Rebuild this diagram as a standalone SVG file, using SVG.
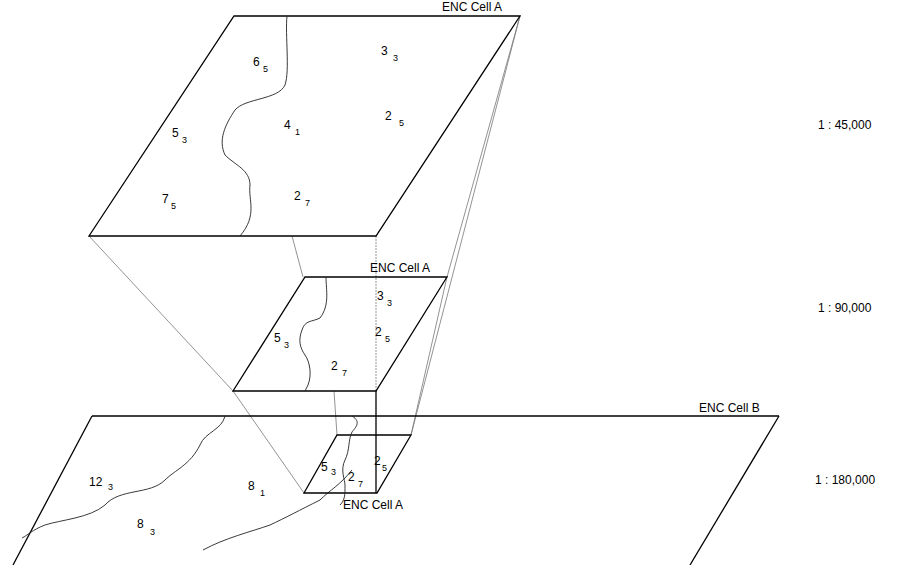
<svg xmlns="http://www.w3.org/2000/svg" width="897" height="565" viewBox="0 0 897 565">
<style>
.b{fill:none;stroke:#000;stroke-width:1.3}
.g{fill:none;stroke:#777;stroke-width:0.8}
.c{fill:none;stroke:#222;stroke-width:0.9}
text{font-family:"Liberation Sans",Arial,sans-serif;font-size:12px;fill:#000}
.s{font-size:9px}
</style>
<rect width="897" height="565" fill="#fff"/>
<g id="connectors">
<line class="g" x1="89" y1="236" x2="233" y2="391"/>
<line class="g" x1="233" y1="391" x2="304" y2="493"/>
<line class="g" x1="520" y1="16" x2="447" y2="277"/>
<line class="g" x1="520" y1="16" x2="411" y2="435"/>
<line class="g" x1="447" y1="277" x2="411" y2="435"/>
<line class="g" x1="292" y1="236" x2="303" y2="277"/>
<line class="g" x1="376" y1="236" x2="376" y2="391" stroke-dasharray="2,1"/>
<line class="g" x1="334" y1="391" x2="337" y2="435"/>
<line class="b" x1="376" y1="391" x2="376" y2="493"/>
</g>
<g id="cellB">
<line class="b" x1="92" y1="416" x2="779" y2="416"/>
<line class="b" x1="92" y1="416" x2="13" y2="565"/>
<line class="b" x1="779" y1="416" x2="690" y2="565"/>
<path class="c" d="M225,416 C222,430 205,432 200,445 C190,465 175,470 165,480 C150,495 120,488 105,505 C90,518 60,520 45,525 C32,530 28,535 22,538"/>
<path class="c" d="M352,470 C340,485 330,490 320,500 C300,510 285,518 270,525 C250,532 225,538 203,550"/>
<text x="699" y="412">ENC Cell B</text>
<text x="89" y="486">12</text><text x="108" y="490" class="s">3</text>
<text x="248" y="490">8</text><text x="260" y="496" class="s">1</text>
<text x="137" y="528">8</text><text x="150" y="535" class="s">3</text>
<text x="815" y="484">1 : 180,000</text>
</g>
<g id="cellA45">
<polygon class="b" points="234,16 520,16 376,236 89,236"/>
<path class="c" d="M287,16 C285,35 290,70 285,85 C278,100 245,98 235,110 C225,125 218,140 225,155 C235,165 250,170 250,185 C248,200 258,215 240,236"/>
<text x="442" y="11">ENC Cell A</text>
<text x="253" y="66">6</text><text x="263" y="72" class="s">5</text>
<text x="381" y="55">3</text><text x="393" y="61" class="s">3</text>
<text x="284" y="129">4</text><text x="295" y="135" class="s">1</text>
<text x="385" y="120">2</text><text x="399" y="126" class="s">5</text>
<text x="172" y="137">5</text><text x="182" y="143" class="s">3</text>
<text x="162" y="203">7</text><text x="171" y="209" class="s">5</text>
<text x="294" y="200">2</text><text x="305" y="206" class="s">7</text>
<text x="818" y="129">1 : 45,000</text>
</g>
<g id="cellA90">
<polygon class="b" points="305,277 447,277 376,391 233,391"/>
<path class="c" d="M326,277 C326,290 330,305 320,318 C312,322 305,320 302,330 C298,340 300,348 305,355 C310,362 312,375 308,385 L305,391"/>
<text x="370" y="272">ENC Cell A</text>
<text x="377" y="300">3</text><text x="387" y="306" class="s">3</text>
<text x="375" y="336">2</text><text x="385" y="342" class="s">5</text>
<text x="274" y="342">5</text><text x="284" y="348" class="s">3</text>
<text x="331" y="370">2</text><text x="342" y="376" class="s">7</text>
<text x="818" y="312">1 : 90,000</text>
</g>
<g id="cellA180">
<polygon class="b" points="337,435 411,435 377,493 304,493"/>
<path class="c" d="M352,416 C362,422 355,428 352,432 C348,440 350,450 345,460 C340,470 345,480 345,485 C345,495 345,500 340,505"/>
<text x="343" y="509">ENC Cell A</text>
<text x="321" y="471">5</text><text x="331" y="475" class="s">3</text>
<text x="348" y="481">2</text><text x="358" y="487" class="s">7</text>
<text x="374" y="465">2</text><text x="382" y="471" class="s">5</text>
</g>
</svg>
